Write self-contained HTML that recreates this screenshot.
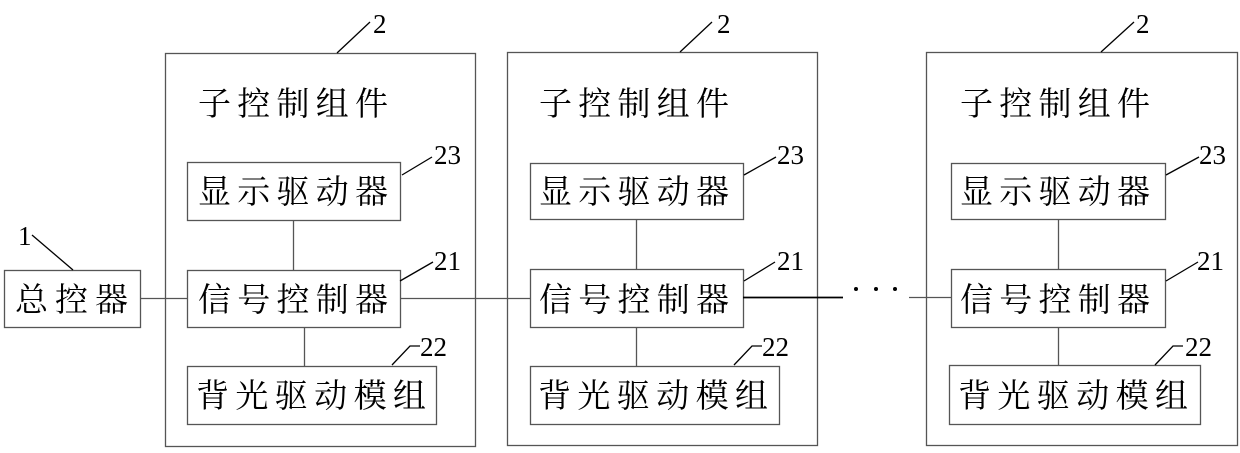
<!DOCTYPE html>
<html><head><meta charset="utf-8"><style>
html,body{margin:0;padding:0;background:#fff;}
svg{display:block}
text{font-family:"Liberation Serif","Noto Serif CJK SC",serif;fill:#000}
.c{font-size:33px}
.n{font-size:27px}
</style></head><body>
<svg width="1240" height="453" viewBox="0 0 1240 453" xmlns="http://www.w3.org/2000/svg">
<g fill="none" stroke="#555" stroke-width="1.3">
<rect x="4.5" y="270.5" width="136" height="57"/>
<rect x="165.5" y="53.5" width="310" height="393"/>
<rect x="187.5" y="162.5" width="213" height="58"/>
<rect x="187.5" y="270.5" width="213" height="57"/>
<rect x="187.5" y="366.5" width="249" height="58"/>
<rect x="507.5" y="52.5" width="310" height="393"/>
<rect x="530.5" y="163.5" width="213" height="56"/>
<rect x="530.5" y="269.5" width="213" height="58"/>
<rect x="530.5" y="366.5" width="249" height="58"/>
<rect x="926.5" y="52.5" width="311" height="393"/>
<rect x="951.5" y="163.5" width="214" height="56"/>
<rect x="951.5" y="269.5" width="214" height="58"/>
<rect x="949.5" y="365.5" width="251" height="59"/>
<line x1="140" y1="298.5" x2="187" y2="298.5"/>
<line x1="293.5" y1="220" x2="293.5" y2="270"/>
<line x1="304.5" y1="327" x2="304.5" y2="366"/>
<line x1="400" y1="298.5" x2="530" y2="298.5"/>
<line x1="636.5" y1="219" x2="636.5" y2="269"/>
<line x1="636.5" y1="327" x2="636.5" y2="366"/>
<line x1="909" y1="297.5" x2="951" y2="297.5"/>
<line x1="1058.5" y1="219" x2="1058.5" y2="269"/>
<line x1="1058.5" y1="327" x2="1058.5" y2="365"/>
</g>
<line x1="743" y1="297.5" x2="843" y2="297.5" stroke="#000" stroke-width="1.8"/>
<g fill="#000"><circle cx="856" cy="289" r="2"/><circle cx="876" cy="289" r="2"/><circle cx="895" cy="289" r="2"/></g>
<g stroke="#000" stroke-width="1.3" fill="none">
<line x1="32" y1="235" x2="73" y2="270"/>
<line x1="337" y1="53" x2="370" y2="22"/>
<line x1="402" y1="175" x2="432" y2="157"/>
<line x1="400" y1="281" x2="433" y2="262"/>
<polyline points="392,365 410,346 420,346"/>
<line x1="680" y1="52" x2="712" y2="22"/>
<line x1="744" y1="175" x2="776" y2="157"/>
<line x1="744" y1="281" x2="775" y2="262"/>
<polyline points="734,365 752,346 762,346"/>
<line x1="1101" y1="52" x2="1134" y2="22"/>
<line x1="1166" y1="175" x2="1199" y2="157"/>
<line x1="1166" y1="281" x2="1198" y2="262"/>
<polyline points="1155,365 1173,346 1183,346"/>
</g>
<g class="n">
<text x="18" y="245">1</text>
<text x="373" y="33">2</text><text x="717" y="33">2</text><text x="1136" y="33">2</text>
<text x="434" y="164">23</text><text x="777" y="164">23</text><text x="1199" y="164">23</text>
<text x="434" y="270">21</text><text x="777" y="270">21</text><text x="1197" y="270">21</text>
<text x="420" y="356">22</text><text x="762" y="356">22</text><text x="1185" y="356">22</text>
</g>
<g class="c">
<text x="15" y="311" textLength="113">总控器</text>
<text x="198" y="115" textLength="190">子控制组件</text>
<text x="198" y="203" textLength="190">显示驱动器</text>
<text x="198" y="311" textLength="190">信号控制器</text>
<text x="196" y="407" textLength="230">背光驱动模组</text>
<text x="539" y="115" textLength="190">子控制组件</text>
<text x="539" y="203" textLength="190">显示驱动器</text>
<text x="539" y="311" textLength="190">信号控制器</text>
<text x="538" y="407" textLength="230">背光驱动模组</text>
<text x="960" y="115" textLength="190">子控制组件</text>
<text x="960" y="203" textLength="190">显示驱动器</text>
<text x="960" y="311" textLength="190">信号控制器</text>
<text x="958" y="407" textLength="230">背光驱动模组</text>
</g>
</svg>
</body></html>
